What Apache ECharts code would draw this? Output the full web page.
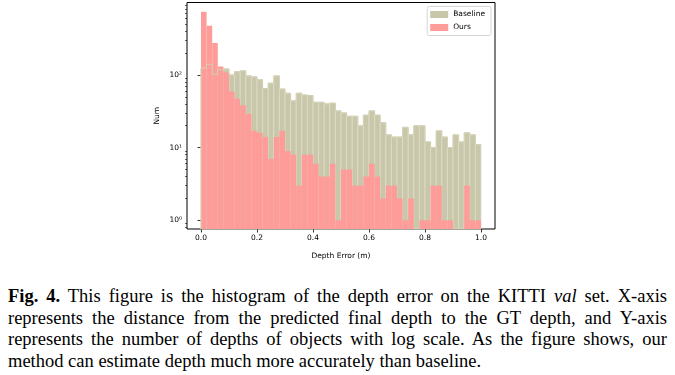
<!DOCTYPE html>
<html>
<head>
<meta charset="utf-8">
<script src="https://cdn.jsdelivr.net/npm/echarts@6/dist/echarts.min.js"></script>
<style>
  html, body { margin: 0; padding: 0; background: #fff; }
  #chart { position: absolute; left: 0; top: 0; width: 675px; height: 265px; }
  #caption {
    position: absolute; left: 8px; top: 286px; width: 659px;
    font-family: "Liberation Serif", serif; font-size: 18.5px; line-height: 21.6px;
    text-align: justify; color: #000;
  }
</style>
</head>
<body>
<div id="chart"></div>
<div id="caption"><b>Fig. 4.</b> This figure is the histogram of the depth error on the KITTI <i>val</i> set. X-axis represents the distance from the predicted final depth to the GT depth, and Y-axis represents the number of depths of objects with log scale. As the figure shows, our method can estimate depth much more accurately than baseline.</div>
<script>
// histogram counts, 50 bins of width 0.02 over [0, 1]
const binWidth = 0.02;
const baseline = [124, 140, 102, 118, 121, 100, 111, 114, 97, 94,
  86, 65, 77, 97, 64, 56, 44, 56, 53, 52,
  42, 42, 40, 41, 32, 30, 27, 27, 20, 28,
  32, 28, 22, 15, 14, 14, 19, 15, 20, 20,
  12, 10, 17, 14, 10, 15, 12, 16, 15, 11];
const ours = [740, 475, 275, 130, 109, 59, 47, 38, 29, 17,
  16, 14, 7, 14, 17, 9, 8, 3, 8, 8,
  6, 4, 4, 6, 1, 5, 5, 3, 3, 4,
  6, 4, 2, 3, 3, 2, 1, 2, 0, 1,
  1, 3, 3, 1, 1, 0, 0, 3, 1, 1];
const xTicks = [0, 0.2, 0.4, 0.6, 0.8, 1.0];
const yTicks = [1, 10, 100];
const yMinorTicks = [0.8, 0.9, 2, 3, 4, 5, 6, 7, 8, 9,
  20, 30, 40, 50, 60, 70, 80, 90, 200, 300, 400, 500, 600, 700, 800, 900];
const supers = { 1: '10\u2070', 10: '10\u00b9', 100: '10\u00b2' };

const yMin = 0.76;
const yMax = 990;
const baseColor = '#c8c7a9';
const oursColor = '#fd9c98';

function toItems(arr) {
  return arr.map((v, i) => [i * binWidth, (i + 1) * binWidth, v]);
}

function barRenderer(fill, stroke) {
  return function (params, api) {
    const x0 = api.value(0), x1 = api.value(1), v = api.value(2);
    if (!(v > 0)) return;
    const p0 = api.coord([x0, v]);
    const p1 = api.coord([x1, yMin]);
    return {
      type: 'rect',
      shape: { x: p0[0], y: p0[1], width: p1[0] - p0[0], height: p1[1] - p0[1] },
      style: { fill: fill, stroke: stroke, lineWidth: stroke ? 0.8 : 0 }
    };
  };
}

// step outline of the baseline histogram (shows through where ours is taller)
function outlineRenderer(params, api) {
  const pts = [api.coord([0, yMin])];
  baseline.forEach((v, i) => {
    pts.push(api.coord([i * binWidth, v]));
    pts.push(api.coord([(i + 1) * binWidth, v]));
  });
  return {
    type: 'polyline',
    shape: { points: pts },
    style: { fill: null, stroke: '#d2d0b3', lineWidth: 1 }
  };
}

const chart = echarts.init(document.getElementById('chart'));
const font = 'DejaVu Sans';
const option = {
  animation: false,
  grid: {
    left: 187, top: 2.5, width: 308, height: 227.5,
    show: true, borderColor: '#000', borderWidth: 1, backgroundColor: 'transparent'
  },
  legend: {
    data: ['Baseline', 'Ours'],
    orient: 'vertical',
    right: 184, top: 6.5,
    icon: 'rect',
    itemWidth: 18, itemHeight: 7, itemGap: 5,
    padding: [4, 6, 4, 3],
    borderColor: '#d6d6d6', borderWidth: 1, borderRadius: 2,
    backgroundColor: 'rgba(255,255,255,0.85)',
    textStyle: { fontFamily: font, fontSize: 7.5, color: '#000' }
  },
  xAxis: {
    type: 'value',
    min: -0.05, max: 1.05,
    name: 'Depth Error (m)',
    nameLocation: 'middle', nameGap: 23,
    nameTextStyle: { fontFamily: font, fontSize: 7.5, color: '#000' },
    axisLine: { show: false },
    splitLine: { show: false },
    axisTick: { show: true, length: 3.5, lineStyle: { color: '#000', width: 0.8 }, customValues: xTicks },
    axisLabel: {
      customValues: xTicks, margin: 5,
      fontFamily: font, fontSize: 7.5, color: '#000',
      formatter: v => v.toFixed(1)
    }
  },
  yAxis: [{
    type: 'log', logBase: 10,
    min: yMin, max: yMax,
    name: 'Num',
    nameLocation: 'middle', nameGap: 26, nameRotate: 90,
    nameTextStyle: { fontFamily: font, fontSize: 7.5, color: '#000' },
    axisLine: { show: false },
    splitLine: { show: false },
    axisTick: { show: true, length: 3.5, lineStyle: { color: '#000', width: 0.8 }, customValues: yTicks },
    axisLabel: {
      customValues: yTicks, margin: 5,
      fontFamily: font, fontSize: 7.5, color: '#000',
      formatter: v => supers[Math.round(v)] || ''
    }
  }, {
    type: 'log', logBase: 10,
    min: yMin, max: yMax,
    position: 'left',
    axisLine: { show: false },
    splitLine: { show: false },
    axisLabel: { show: false },
    axisTick: { show: true, length: 2, lineStyle: { color: '#000', width: 0.6 }, customValues: yMinorTicks }
  }],
  series: [{
    name: 'Baseline',
    type: 'custom',
    renderItem: barRenderer(baseColor, '#dedccb'),
    itemStyle: { color: baseColor },
    encode: { x: [0, 1], y: 2 },
    data: toItems(baseline),
    z: 1
  }, {
    name: 'Ours',
    type: 'custom',
    renderItem: barRenderer(oursColor, null),
    itemStyle: { color: oursColor },
    encode: { x: [0, 1], y: 2 },
    data: toItems(ours),
    z: 2
  }, {
    name: 'outline',
    type: 'custom',
    renderItem: outlineRenderer,
    encode: { x: 0, y: 1 },
    data: [[0.5, 10]],
    silent: true,
    z: 3
  }]
};
chart.setOption(option);
</script>
</body>
</html>
